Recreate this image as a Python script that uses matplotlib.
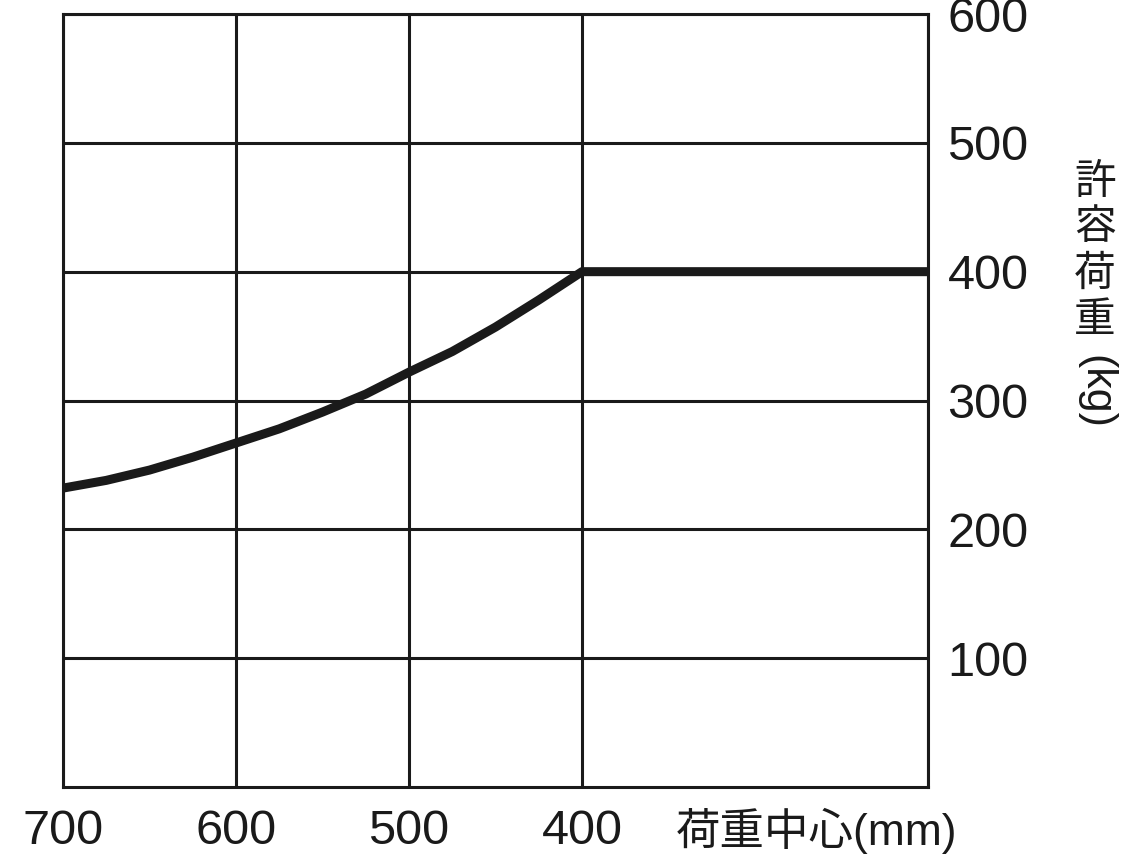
import matplotlib
matplotlib.use("Agg")
import matplotlib.pyplot as plt
import matplotlib.transforms as mtransforms

plt.rcParams['font.family'] = ['Liberation Sans', 'Noto Sans CJK JP', 'DejaVu Sans']

# load center (mm) vs allowable load (kg)
center = [700, 675, 650, 625, 600, 575, 550, 525, 500, 475, 450, 425, 400, 200]
load = [232, 238, 246, 256, 267, 278, 291, 305, 322, 338, 357, 378, 400, 400]

xticks = [700, 600, 500, 400]
xgrid = [700, 600, 500, 400, 200]
yticks = [100, 200, 300, 400, 500, 600]
xlabel = "荷重中心(mm)"
ylabel_chars = ["許", "容", "荷", "重"]
ylabel_unit = "(kg)"

ink = "#1a1a1a"

fig = plt.figure(figsize=(11.4, 8.55), dpi=100)
ax = fig.add_axes([63 / 1140, 1 - 787 / 855, 865 / 1140, 773 / 855])

ax.set_xlim(700, 200)
ax.set_ylim(0, 600)

for x in xgrid:
    ax.axvline(x, color=ink, lw=2.2, zorder=1)
for y in yticks:
    ax.axhline(y, color=ink, lw=2.2, zorder=1)

ax.plot(center, load, color=ink, lw=6.5, solid_capstyle='butt',
        solid_joinstyle='round', zorder=3)

for s in ax.spines.values():
    s.set_color(ink)
    s.set_linewidth(2.2)

ax.set_xticks(xticks)
ax.set_xticklabels([str(v) for v in xticks])
ax.set_yticks(yticks)
ax.set_yticklabels([str(v) for v in yticks])
ax.yaxis.tick_right()
ax.tick_params(axis='both', length=0, labelsize=35, colors=ink)
ax.tick_params(axis='x', pad=16)
ax.tick_params(axis='y', pad=14)

trans = mtransforms.blended_transform_factory(ax.transData, ax.transAxes)
ax.text(346, -0.057, xlabel, transform=trans, ha='left', va='center',
        fontsize=32, color=ink)

# vertical y label: stacked characters, unit rotated
ys = [183, 228, 275, 321]
for ch, yp in zip(ylabel_chars, ys):
    fig.text(1095 / 1140, 1 - yp / 855, ch, ha='center', va='center',
             fontsize=30, color=ink)
fig.text(1095 / 1140, 1 - 392 / 855, ylabel_unit, ha='center', va='center',
         fontsize=31, color=ink, rotation=-90)

fig.savefig("out.png", dpi=100)
